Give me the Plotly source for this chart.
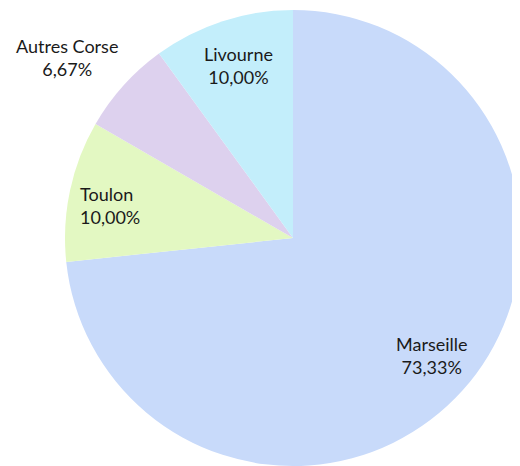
import plotly.graph_objects as go

labels = ["Marseille", "Toulon", "Autres Corse", "Livourne"]
values = [73.33, 10.00, 6.67, 10.00]
colors = ["#c8dafa", "#e3f8c2", "#ddd1ee", "#c3eefb"]
pct_text = ["73,33%", "10,00%", "6,67%", "10,00%"]
# label centre positions in window pixels (x from left, y from top)
label_pos = [(432, 355), (110, 205), (67, 58), (238, 65)]

W, H = 520, 466
OFF = 8  # default page body margin
CX, CY, R = 293 - OFF, 238 - OFF, 228

fig = go.Figure(go.Pie(
    labels=labels,
    values=values,
    sort=False,
    direction="clockwise",
    rotation=0,
    marker=dict(colors=colors, line=dict(width=0)),
    textinfo="none",
    hoverinfo="label+percent",
    showlegend=False,
    domain=dict(x=[(CX - R) / W, (CX + R) / W],
                y=[(H - CY - R) / H, (H - CY + R) / H]),
))

for lab, pct, (px, py) in zip(labels, pct_text, label_pos):
    fig.add_annotation(
        x=(px - OFF) / W, y=1 - (py - OFF) / H, xref="paper", yref="paper",
        text=f"{lab}<br>{pct}", showarrow=False,
        font=dict(family="Lato, Carlito, sans-serif", size=18, color="#1a1a1a"),
        align="center" if lab != "Toulon" else "left",
        xanchor="center", yanchor="middle",
    )

fig.update_layout(
    width=W, height=H,
    margin=dict(l=0, r=0, t=0, b=0),
    paper_bgcolor="white",
    plot_bgcolor="white",
)

fig.write_html("out.html")
